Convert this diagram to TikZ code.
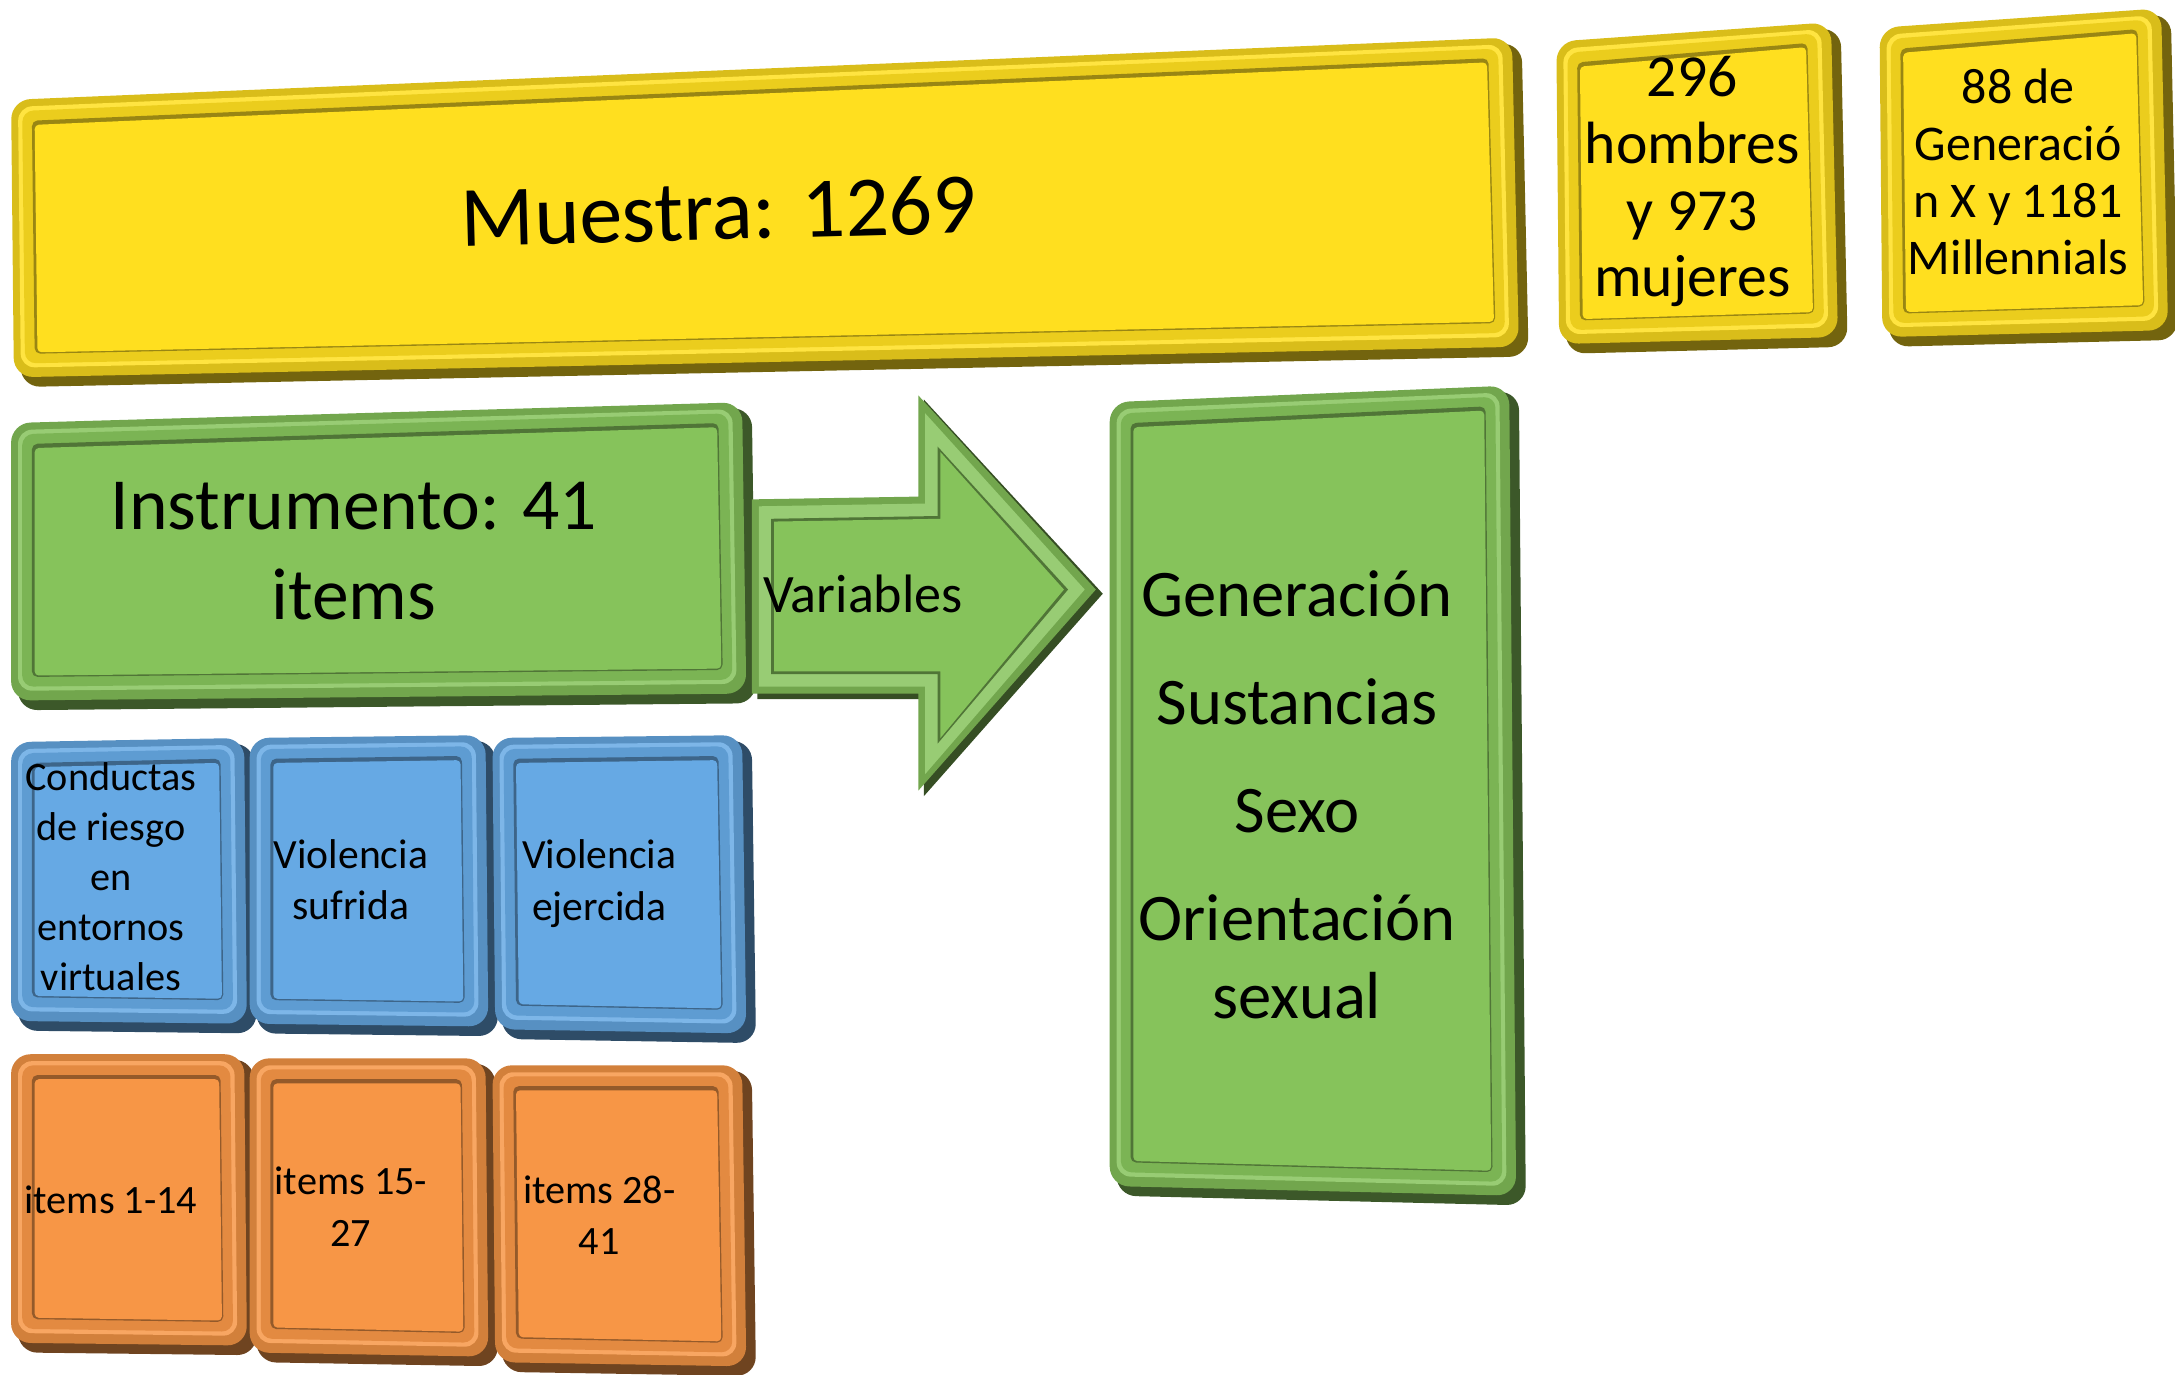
\documentclass[tikz,border=0pt]{standalone}
\usepackage{fontspec}
\setmainfont{Carlito}
\usetikzlibrary{calc}
\definecolor{yface}{HTML}{FFDF1F}
\definecolor{gface}{HTML}{86C35B}
\definecolor{bface}{HTML}{66A9E4}
\definecolor{oface}{HTML}{F79646}
\newcommand{\bevel}[5]{%
 \coordinate (p1) at (#1); \coordinate (p2) at (#2); \coordinate (p3) at (#3); \coordinate (p4) at (#4);
 \fill[#5!45!black, rounded corners=14] ($(p1)+(5,4)$) -- ($(p2)+(7,4)$) -- ($(p3)+(7,7)$) -- ($(p4)+(5,7)$) -- cycle;
 \fill[#5!85!black, rounded corners=14] (p1) -- (p2) -- (p3) -- (p4) -- cycle;
 \fill[#5!85!white, rounded corners=10] ($(p1)+(5,5)$) -- ($(p2)+(-7,5)$) -- ($(p3)+(-7,-7)$) -- ($(p4)+(5,-7)$) -- cycle;
 \fill[#5!92!black, rounded corners=8] ($(p1)+(8,8)$) -- ($(p2)+(-10,8)$) -- ($(p3)+(-10,-10)$) -- ($(p4)+(8,-10)$) -- cycle;
 \fill[#5!60!black, rounded corners=4] ($(p1)+(15,15)$) -- ($(p2)+(-17,15)$) -- ($(p3)+(-17,-17)$) -- ($(p4)+(15,-17)$) -- cycle;
 \fill[#5, rounded corners=3] ($(p1)+(17,18)$) -- ($(p2)+(-18,18)$) -- ($(p3)+(-18,-18)$) -- ($(p4)+(17,-18)$) -- cycle;
}
\tikzset{
 lbl/.style={align=center, inner sep=0pt, text=black},
}
\begin{document}
\begin{tikzpicture}[x=1pt,y=-1pt]
\useasboundingbox (0,0) rectangle (1568,991);
% yellow row
\bevel{8,72}{1090,27}{1095,250}{10,272}{yface}
\bevel{1122,30}{1320,16}{1325,243}{1124,248}{yface}
\bevel{1355,20}{1558,6}{1563,238}{1357,243}{yface}
% green
\bevel{8,305}{535,290}{538,500}{8,505}{gface}
\bevel{800,290}{1088,278}{1093,862}{800,855}{gface}
% arrow
\fill[gface!40!black] (546,363) -- (666,361) -- (666,288) -- (795,428) -- (666,574) -- (666,504) -- (546,504) -- cycle;
\fill[gface!85!black] (542,360) -- (662,358) -- (662,285) -- (790,425) -- (662,570) -- (662,500) -- (542,500) -- cycle;
\fill[gface!85!white] (547,365) -- (667,363) -- (667,298) -- (782,425) -- (667,558) -- (667,495) -- (547,495) -- cycle;
\fill[gface!60!black] (556,374) -- (676,372) -- (676,322) -- (770,425) -- (676,536) -- (676,486) -- (556,486) -- cycle;
\fill[gface] (558,376) -- (678,374) -- (678,326) -- (767,425) -- (678,532) -- (678,484) -- (558,484) -- cycle;
% blue
\bevel{8,535}{176,532}{178,738}{8,736}{bface}
\bevel{180,532}{350,530}{352,740}{180,738}{bface}
\bevel{355,532}{535,530}{538,745}{357,742}{bface}
% orange
\bevel{8,760}{176,760}{178,970}{8,968}{oface}
\bevel{180,763}{350,763}{352,978}{180,975}{oface}
\bevel{355,768}{535,768}{538,985}{357,982}{oface}
% texts
\node[lbl, rotate=1.5, font={\fontsize{62}{72}\selectfont}] (muestra) at (518,152) {Muestra: 1269};
\node[lbl, font={\fontsize{43}{48}\selectfont}] (sexo) at (1220,131) {296\\hombres\\y 973\\mujeres};
\node[lbl, font={\fontsize{36}{41}\selectfont}] (gen) at (1455,124) {88 de\\Generació\\n X y 1181\\Millennials};
\node[lbl, font={\fontsize{53}{65}\selectfont}] (instr) at (255,397) {Instrumento: 41\\items};
\node[lbl, anchor=west, font={\fontsize{39}{45}\selectfont}] (var) at (550,428) {Variables};
\node[lbl, font={\fontsize{48}{56}\selectfont}] (vars) at (935,573) {Generación\\[22pt]Sustancias\\[22pt]Sexo\\[22pt]Orientación\\sexual};
\node[lbl, font={\fontsize{29}{36}\selectfont}] (b1) at (80,632) {Conductas\\de riesgo\\en\\entornos\\virtuales};
\node[lbl, font={\fontsize{30}{37}\selectfont}] (b2) at (253,634) {Violencia\\sufrida};
\node[lbl, font={\fontsize{30}{37}\selectfont}] (b3) at (432,637) {Violencia\\ejercida};
\node[lbl, font={\fontsize{29}{36}\selectfont}] (o1) at (80,865) {items 1-14};
\node[lbl, font={\fontsize{29}{37}\selectfont}] (o2) at (253,870) {items 15-\\27};
\node[lbl, font={\fontsize{29}{37}\selectfont}] (o3) at (432,876) {items 28-\\41};
\end{tikzpicture}
\end{document}
